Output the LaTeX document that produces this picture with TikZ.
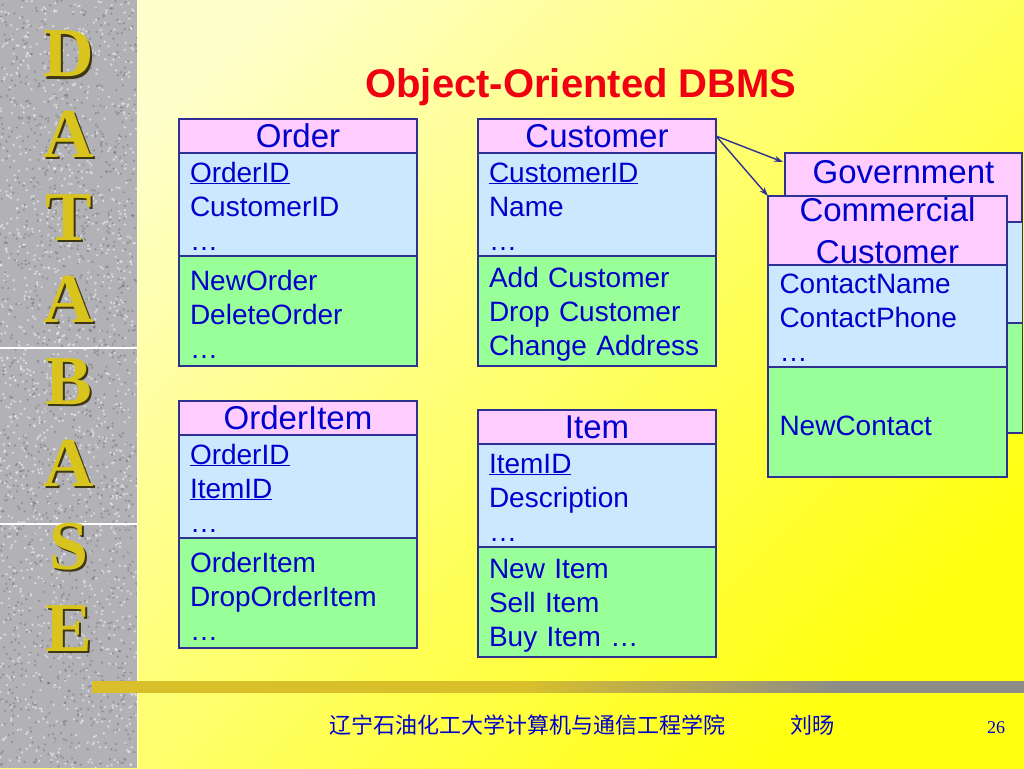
\documentclass[tikz,border=0pt]{standalone}
\usepackage{fontspec}
\setmainfont{Liberation Sans}
\newfontfamily\letterfont{Liberation Serif}
\newfontfamily\cjk{Noto Sans CJK SC}
\usetikzlibrary{arrows.meta, positioning, calc}
\definecolor{paleyellow}{HTML}{FFFFCC}
\definecolor{brightyellow}{HTML}{FFFF10}
\definecolor{granite}{HTML}{B2B2B6}
\definecolor{lettergold}{HTML}{D8C41C}
\definecolor{lettershadow}{HTML}{3E3812}
\definecolor{bargold}{HTML}{D9C02A}
\definecolor{bargray}{HTML}{8E8C88}
\definecolor{classedge}{HTML}{2E3192}
\definecolor{headpink}{HTML}{FFCCFF}
\definecolor{attrblue}{HTML}{CCE8FF}
\definecolor{opgreen}{HTML}{99FF99}
\definecolor{textblue}{HTML}{0000CC}
\definecolor{titlered}{HTML}{F00010}
\pgfdeclarehorizontalshading{barshade}{100bp}{color(0bp)=(bargold); color(25bp)=(bargold); color(48bp)=(bargold); color(65bp)=(bargray); color(100bp)=(bargray)}
\tikzset{
    classhead/.style={rectangle, draw=classedge, fill=headpink, line width=1.2pt, minimum width=238pt, minimum height=34pt, text width=216pt, align=center, inner sep=0pt, outer sep=0pt, text=textblue, font=\fontsize{33}{40}\selectfont},
    classattr/.style={rectangle, draw=classedge, fill=attrblue, line width=1.2pt, minimum width=238pt, minimum height=103pt, text width=216pt, align=left, inner xsep=11pt, inner ysep=0pt, outer sep=0pt, text=textblue, font=\fontsize{28}{34}\selectfont, execute at begin node={\rule{0pt}{23pt}}},
    classop/.style={classattr, fill=opgreen, minimum height=110pt, execute at begin node={\rule{0pt}{27pt}}},
    letter/.style={text=lettergold, anchor=base, font=\letterfont\bfseries\fontsize{70}{70}\selectfont},
    lettershade/.style={letter, text=lettershadow},
    inherit/.style={-{Stealth[length=9pt, width=6pt]}, line width=1.4pt, draw=classedge}
}

\begin{document}
\begin{tikzpicture}[x=1pt, y=-1pt]
    \useasboundingbox (0,0) rectangle (1024,768);
    % background
    \shade[top color=paleyellow, bottom color=brightyellow, shading angle=45] (0,0) rectangle (1024,768);
    % granite bar with letters
    \fill[granite] (0,0) rectangle (137,768);
    \pgfmathsetseed{11}
    \foreach \k in {1,...,1400} {
        \fill[black!60, opacity=0.4] (rnd*137, rnd*768) circle (1.3pt);
        \fill[white, opacity=0.5] (rnd*137, rnd*768) circle (1.3pt);
    }
    \draw[white, line width=1.2pt] (0,348) -- (137,348);
    \draw[white, line width=1.2pt] (0,524) -- (137,524);
    \draw[paleyellow, line width=1pt] (137,0) -- (137,768);
    \foreach \ch/\yy [count=\i] in {D/77, A/157, T/240, A/322, B/404, A/486, S/569, E/651} {
        \node[lettershade] (s\i) at (71,\yy+2) {\ch};
        \node[letter] (l\i) at (69,\yy) {\ch};
    }
    % rule above the footer
    \shade[shading=barshade] (92,681) rectangle (1024,692);

    \node[anchor=base, text=titlered, font=\bfseries\fontsize{40}{44}\selectfont] (title) at (581,97) {Object-Oriented DBMS};

    % Order
    \node[classhead, anchor=north west] (orderhd) at (179,119) {Order};
    \node[classattr, below=0pt of orderhd] (orderat) {\underline{OrderID}\\CustomerID\\…};
    \node[classop, below=0pt of orderat] (orderop) {NewOrder\\DeleteOrder\\…};

    % Customer
    \node[classhead, anchor=north west] (custhd) at (478,119) {Customer};
    \node[classattr, below=0pt of custhd] (custat) {\underline{CustomerID}\\Name\\…};
    \node[classop, below=0pt of custat] (custop) {Add Customer\\Drop Customer\\Change Address};

    % OrderItem
    \node[classhead, anchor=north west] (oitemhd) at (179,401) {OrderItem};
    \node[classattr, below=0pt of oitemhd] (oitemat) {\underline{OrderID}\\\underline{ItemID}\\…};
    \node[classop, below=0pt of oitemat] (oitemop) {OrderItem\\DropOrderItem\\…};

    % Item
    \node[classhead, anchor=north west] (itemhd) at (478,410) {Item};
    \node[classattr, below=0pt of itemhd] (itemat) {\underline{ItemID}\\Description\\…};
    \node[classop, below=0pt of itemat] (itemop) {New Item\\Sell Item\\Buy Item …};

    % Government (behind)
    \node[classhead, anchor=north west, minimum width=237pt, text height=26pt, text depth=35pt, inner ysep=4pt] (govhd) at (785,153) {Government};
    \node[classattr, below=0pt of govhd, minimum width=237pt, minimum height=101pt, execute at begin node={}] (govat) {};
    \node[classop, below=0pt of govat, minimum width=237pt, execute at begin node={}] (govop) {};

    % Commercial Customer
    \node[classhead, anchor=north west, minimum width=239pt, minimum height=69pt, inner ysep=1pt, font=\fontsize{33}{42}\selectfont] (comhd) at (768,196) {Commercial\\Customer};
    \node[classattr, below=0pt of comhd, minimum width=239pt, minimum height=102pt] (comat) {ContactName\\ContactPhone\\…};
    \node[classop, below=0pt of comat, minimum width=239pt, execute at begin node={}] (comop) {NewContact};

    \coordinate (govtip) at ([yshift=-9pt]govhd.north west);
    \draw[inherit] (custhd.east) -- ([xshift=-2pt]govtip);
    \draw[inherit] (custhd.east) -- (comhd.north west);

    % footer
    \node[anchor=base, text=textblue, font=\cjk\fontsize{22}{24}\selectfont] (school) at (527,733) {辽宁石油化工大学计算机与通信工程学院};
    \node[anchor=base, text=textblue, font=\cjk\fontsize{22}{24}\selectfont] (author) at (812,733) {刘旸};
    \node[anchor=base, text=textblue, font=\letterfont\fontsize{18}{20}\selectfont] (page) at (996,733) {26};
\end{tikzpicture}
\end{document}
